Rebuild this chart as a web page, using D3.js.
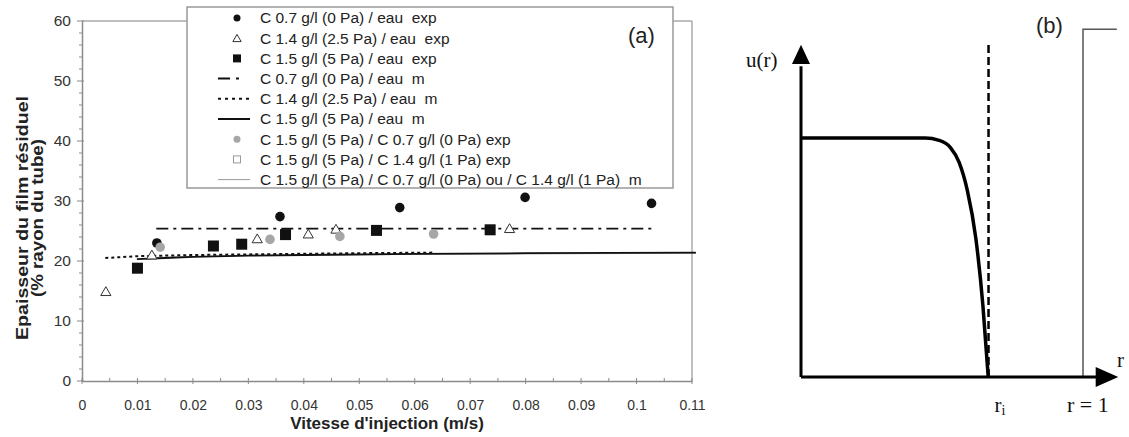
<!DOCTYPE html>
<html><head><meta charset="utf-8">
<script src="https://cdn.jsdelivr.net/npm/d3@7"></script>
<style>body{margin:0;background:#fff}svg{display:block;font-family:"Liberation Sans",Arial,sans-serif}text{white-space:pre}</style>
</head><body>
<svg id="c" width="1129" height="437"></svg>
<script>
// ---- Panel (a) data ----
const xTicks = [0,0.01,0.02,0.03,0.04,0.05,0.06,0.07,0.08,0.09,0.1,0.11];
const xTickLabels = ["0","0.01","0.02","0.03","0.04","0.05","0.06","0.07","0.08","0.09","0.1","0.11"];
const yTicks = [0,10,20,30,40,50,60];
const legendLabels = [
  "C 0.7 g/l (0 Pa) / eau  exp",
  "C 1.4 g/l (2.5 Pa) / eau  exp",
  "C 1.5 g/l (5 Pa) / eau  exp",
  "C 0.7 g/l (0 Pa) / eau  m",
  "C 1.4 g/l (2.5 Pa) / eau  m",
  "C 1.5 g/l (5 Pa) / eau  m",
  "C 1.5 g/l (5 Pa) / C 0.7 g/l (0 Pa) exp",
  "C 1.5 g/l (5 Pa) / C 1.4 g/l (1 Pa) exp",
  "C 1.5 g/l (5 Pa) / C 0.7 g/l (0 Pa) ou / C 1.4 g/l (1 Pa)  m"
];
const c07exp = [[0.0135,23.0],[0.0357,27.4],[0.0573,28.9],[0.0799,30.6],[0.1027,29.6]];
const c14exp = [[0.0043,14.9],[0.0126,21.0],[0.0316,23.7],[0.0408,24.5],[0.0458,25.3],[0.0771,25.4]];
const c15exp = [[0.0100,18.8],[0.0237,22.5],[0.0288,22.8],[0.0367,24.4],[0.0531,25.1],[0.0736,25.2]];
const c15c07exp = [[0.0141,22.3],[0.0339,23.6],[0.0465,24.1],[0.0634,24.5]];
const c15c14exp = [];
const c07m = [[0.0134,25.4],[0.1029,25.4]];
const c14m = [[0.0042,20.5],[0.010,20.8],[0.020,21.0],[0.030,21.1],[0.040,21.2],[0.050,21.3],[0.0635,21.4]];
const c15m = [[0.0099,20.3],[0.015,20.5],[0.020,20.7],[0.030,20.9],[0.040,21.0],[0.060,21.2],[0.080,21.3],[0.1107,21.4]];
const c15mixm = [[0.0134,20.6],[0.030,20.9],[0.060,21.1],[0.1107,21.3]];

// ---- Panel (b) schematic data ----
const profile = [[0,1],[0.30,1],[0.44,1],[0.49,0.99],[0.53,0.96],[0.56,0.90],[0.59,0.78],[0.62,0.58],[0.645,0.30],[0.664,0]];
const rInterface = 0.665;

const svg = d3.select("#c");
const x = d3.scaleLinear().domain([0,0.11]).range([82,692]);
const y = d3.scaleLinear().domain([0,60]).range([381,21]);
const axisCol = "#8a8a8a", txtCol = "#333";

// frame top/right
svg.append("line").attr("x1",x(0)).attr("x2",x(0.11)).attr("y1",y(60)).attr("y2",y(60)).attr("stroke","#aaa").attr("stroke-width",1.5);
svg.append("line").attr("x1",x(0.11)).attr("x2",x(0.11)).attr("y1",y(60)).attr("y2",y(0)).attr("stroke","#aaa").attr("stroke-width",1.5);

// x axis
const gx = svg.append("g").attr("transform",`translate(0,${y(0)})`)
  .call(d3.axisBottom(x).tickValues(xTicks).tickSize(0).tickPadding(19).tickFormat((d,i)=>xTickLabels[i]));
gx.select(".domain").attr("stroke",axisCol).attr("stroke-width",1.5);
gx.selectAll("text").attr("font-size",14).attr("fill",txtCol).attr("font-family","Liberation Sans, Arial");
const xMinor = d3.range(0,0.1101,0.005);
svg.append("g").selectAll("line").data(xMinor).join("line")
  .attr("x1",d=>x(d)).attr("x2",d=>x(d)).attr("y1",y(0)-3).attr("y2",(d,i)=>i%2===0?y(0)+3:y(0))
  .attr("stroke",axisCol).attr("stroke-width",1);

// y axis
const gy = svg.append("g").attr("transform",`translate(${x(0)},0)`)
  .call(d3.axisLeft(y).tickValues(yTicks).tickSize(0).tickPadding(11));
gy.select(".domain").attr("stroke",axisCol).attr("stroke-width",1.5);
gy.selectAll("text").attr("font-size",15.5).attr("fill",txtCol).attr("font-family","Liberation Sans, Arial");
svg.append("g").selectAll("line").data(d3.range(0,61,2)).join("line")
  .attr("x1",d=>x(0)-(d%10===0?5:3)).attr("x2",d=>x(0)+(d%10===0?2:0)).attr("y1",d=>y(d)).attr("y2",d=>y(d))
  .attr("stroke",axisCol).attr("stroke-width",1);

// axis titles
svg.append("text").attr("x",(x(0)+x(0.11))/2).attr("y",429).attr("text-anchor","middle")
  .attr("font-size",17).attr("font-weight","bold").attr("fill","#222").text("Vitesse d'injection (m/s)");
const yt = svg.append("text").attr("transform",`translate(29,218) rotate(-90)`).attr("text-anchor","middle")
  .attr("font-size",16).attr("font-weight","bold").attr("fill","#222");
yt.append("tspan").attr("x",0).attr("dy",-1).attr("textLength",244).attr("lengthAdjust","spacingAndGlyphs").text("Epaisseur du film résiduel");
yt.append("tspan").attr("x",0).attr("dy",15).attr("textLength",158).attr("lengthAdjust","spacingAndGlyphs").text("(% rayon du tube)");

// lines
const line = d3.line().x(d=>x(d[0])).y(d=>y(d[1]));
svg.append("path").datum(c15mixm).attr("d",line).attr("fill","none").attr("stroke","#999").attr("stroke-width",1);
svg.append("path").datum(c15m).attr("d",line).attr("fill","none").attr("stroke","#111").attr("stroke-width",1.8);
svg.append("path").datum(c14m).attr("d",line).attr("fill","none").attr("stroke","#111").attr("stroke-width",2).attr("stroke-dasharray","3,3");
svg.append("path").datum(c07m).attr("d",line).attr("fill","none").attr("stroke","#111").attr("stroke-width",1.8).attr("stroke-dasharray","12,5,3,5");

// markers
const tri = d3.symbol().type(d3.symbolTriangle).size(45);
function drawCircles(data, fill){ svg.append("g").selectAll("circle").data(data).join("circle")
  .attr("cx",d=>x(d[0])).attr("cy",d=>y(d[1])).attr("r",4.8).attr("fill",fill); }
function drawSquares(data, fill, stroke){ svg.append("g").selectAll("rect").data(data).join("rect")
  .attr("x",d=>x(d[0])-5.5).attr("y",d=>y(d[1])-5.5).attr("width",11).attr("height",11).attr("fill",fill).attr("stroke",stroke); }
svg.append("g").selectAll("path").data(c14exp).join("path").attr("d",tri)
  .attr("transform",d=>`translate(${x(d[0])},${y(d[1])+1})`).attr("fill","#fff").attr("stroke","#333").attr("stroke-width",1);
drawSquares(c15exp,"#111","none");
drawCircles(c07exp,"#111");
drawCircles(c15c07exp,"#a6a6a6");
drawSquares(c15c14exp,"#fff","#999");

// legend
const lg = svg.append("g");
lg.append("rect").attr("x",187).attr("y",7).attr("width",486).attr("height",181).attr("fill","#fff").attr("stroke","#999").attr("stroke-width",1.5);
const ly = i => 18 + i*20.2;
lg.selectAll("text").data(legendLabels).join("text").attr("x",260).attr("y",(d,i)=>ly(i)).attr("dy","0.35em")
  .attr("font-size",15.5).attr("fill","#222").text(d=>d);
lg.append("circle").attr("cx",237).attr("cy",ly(0)).attr("r",3.5).attr("fill","#111");
lg.append("path").attr("d",d3.symbol().type(d3.symbolTriangle).size(30)).attr("transform",`translate(237,${ly(1)+1})`).attr("fill","#fff").attr("stroke","#333");
lg.append("rect").attr("x",233).attr("y",ly(2)-4).attr("width",8).attr("height",8).attr("fill","#111");
lg.append("line").attr("x1",218).attr("x2",250).attr("y1",ly(3)).attr("y2",ly(3)).attr("stroke","#111").attr("stroke-width",2).attr("stroke-dasharray","12,6,3,20");
lg.append("line").attr("x1",218).attr("x2",250).attr("y1",ly(4)).attr("y2",ly(4)).attr("stroke","#111").attr("stroke-width",2).attr("stroke-dasharray","3,4");
lg.append("line").attr("x1",218).attr("x2",250).attr("y1",ly(5)).attr("y2",ly(5)).attr("stroke","#111").attr("stroke-width",2);
lg.append("circle").attr("cx",237).attr("cy",ly(6)).attr("r",3.5).attr("fill","#a6a6a6");
lg.append("rect").attr("x",233.5).attr("y",ly(7)-3.5).attr("width",7).attr("height",7).attr("fill","#fff").attr("stroke","#999");
lg.append("line").attr("x1",218).attr("x2",250).attr("y1",ly(8)).attr("y2",ly(8)).attr("stroke","#999").attr("stroke-width",1);
svg.append("text").attr("x",628).attr("y",43).attr("font-size",22).attr("fill","#222").text("(a)");

// ---- Panel (b) ----
const rs = d3.scaleLinear().domain([0,1]).range([801,1083]);
const us = d3.scaleLinear().domain([0,1]).range([377,138]);
const serif = "Liberation Serif, Times New Roman, serif";
// wall
svg.append("path").attr("d",`M${rs(1)},${us(0)}V${us(1.455)}H${rs(1.12)}`).attr("fill","none").attr("stroke","#555").attr("stroke-width",1.5);
// axes with arrows
svg.append("line").attr("x1",rs(0)).attr("x2",rs(0)).attr("y1",us(0)).attr("y2",us(1.30)).attr("stroke","#000").attr("stroke-width",3);
svg.append("path").attr("d",`M${rs(0)},${us(1.39)}L${rs(0)-9},${us(1.31)}L${rs(0)+9},${us(1.31)}Z`).attr("fill","#000");
svg.append("line").attr("x1",rs(0)).attr("x2",rs(1.05)).attr("y1",us(0)).attr("y2",us(0)).attr("stroke","#000").attr("stroke-width",3);
svg.append("path").attr("d",`M${rs(1.125)},${us(0)}L${rs(1.045)},${us(0)-10}L${rs(1.045)},${us(0)+10}Z`).attr("fill","#000");
// dashed interface
svg.append("line").attr("x1",rs(rInterface)).attr("x2",rs(rInterface)).attr("y1",us(0)).attr("y2",us(1.40))
  .attr("stroke","#000").attr("stroke-width",2.5).attr("stroke-dasharray","8,4");
// profile
svg.append("path").datum(profile).attr("d",d3.line().x(d=>rs(d[0])).y(d=>us(d[1])).curve(d3.curveMonotoneX))
  .attr("fill","none").attr("stroke","#000").attr("stroke-width",3.5);
// labels
svg.append("text").attr("x",746).attr("y",67).attr("font-family",serif).attr("font-size",21).attr("fill","#111").text("u(r)");
const ri = svg.append("text").attr("x",rs(rInterface)+6).attr("y",412).attr("font-family",serif).attr("font-size",21).attr("fill","#111");
ri.append("tspan").text("r");
ri.append("tspan").attr("font-size",14).attr("dy",3).text("i");
svg.append("text").attr("x",1067).attr("y",412).attr("font-family",serif).attr("font-size",22).attr("fill","#111").text("r = 1");
svg.append("text").attr("x",1117).attr("y",367).attr("font-family",serif).attr("font-size",21).attr("fill","#111").text("r");
svg.append("text").attr("x",1036).attr("y",33).attr("font-size",22).attr("fill","#222").text("(b)");
</script>
</body></html>
